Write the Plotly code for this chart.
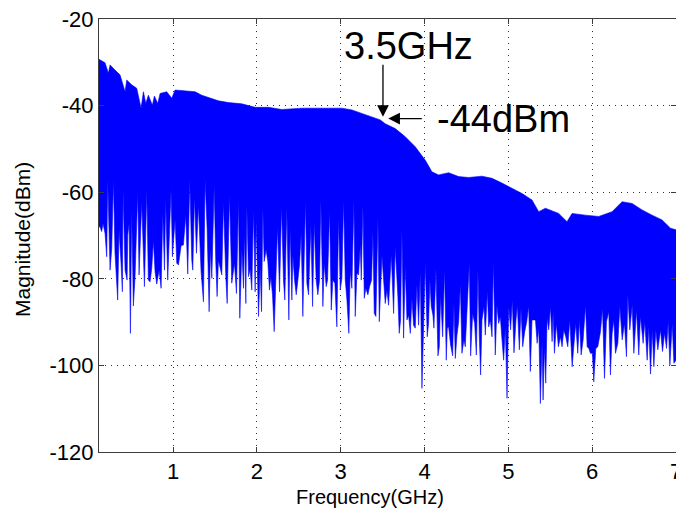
import plotly.graph_objects as go

# Upper envelope of the spectrum (GHz, dBm)
upper_f = [0.116,0.188,0.228,0.248,0.307,0.367,0.427,0.447,0.506,0.566,0.618,0.646,0.674,0.705,0.753,0.777,0.817,0.845,0.924,0.984,1.024,1.143,1.263,1.342,1.442,1.541,1.661,1.820,1.979,2.138,2.297,2.536,2.775,3.014,3.133,3.253,3.372,3.472,3.531,3.650,3.770,3.889,4.009,4.088,4.168,4.287,4.407,4.526,4.685,4.805,4.924,5.043,5.163,5.282,5.362,5.442,5.600,5.700,5.760,5.919,6.078,6.237,6.357,6.476,6.596,6.715,6.834,6.934,7.0]
upper_db = [-29.3,-30.1,-32.5,-30.6,-31.8,-32.9,-36.8,-34.1,-35.2,-36.0,-40.6,-36.8,-39.5,-37.6,-39.9,-37.8,-39.5,-37.2,-36.8,-38.3,-36.4,-36.6,-36.8,-37.6,-38.3,-38.9,-39.3,-39.6,-40.4,-40.4,-40.9,-40.6,-40.6,-40.6,-41.0,-41.8,-42.6,-43.3,-44.2,-45.3,-47.2,-49.5,-52.6,-55.3,-56.0,-55.5,-56.4,-56.6,-56.3,-56.8,-57.9,-59.1,-60.3,-61.8,-64.5,-63.7,-64.9,-66.8,-64.9,-65.3,-65.6,-64.5,-62.2,-62.6,-64.1,-65.3,-66.4,-68.3,-68.7]

# Lower (jagged) edge of the spectrum: alternating dips and gaps
lower_f = [0.116,0.128,0.148,0.164,0.188,0.208,0.220,0.236,0.248,0.268,0.288,0.307,0.339,0.355,0.379,0.395,0.403,0.427,0.451,0.459,0.475,0.491,0.506,0.526,0.546,0.578,0.594,0.626,0.658,0.686,0.705,0.725,0.745,0.765,0.785,0.805,0.833,0.857,0.877,0.897,0.912,0.936,0.976,0.992,1.024,1.044,1.064,1.096,1.123,1.151,1.175,1.199,1.223,1.235,1.255,1.279,1.302,1.334,1.362,1.382,1.406,1.430,1.446,1.462,1.490,1.509,1.525,1.541,1.565,1.581,1.601,1.629,1.645,1.673,1.700,1.732,1.756,1.780,1.796,1.820,1.840,1.852,
           1.868,1.880,1.900,1.919,1.939,1.959,1.979,1.991,2.019,2.039,2.055,2.071,2.087,2.110,2.130,2.150,2.166,2.186,2.206,2.222,2.246,2.270,2.294,2.317,2.333,2.357,2.381,2.397,2.417,2.429,2.449,2.469,2.485,2.508,2.528,2.548,2.580,2.596,2.616,2.644,2.664,2.684,2.707,2.727,2.747,2.763,2.787,2.803,2.827,2.843,2.867,2.887,2.906,2.930,2.954,2.974,2.994,3.014,3.034,3.054,3.074,3.097,3.113,3.133,3.157,3.173,3.193,3.213,3.233,3.245,3.265,3.281,3.300,3.324,3.344,3.368,3.384,3.400,3.420,3.444,3.460,3.492,3.511,3.531,3.551,3.571,
           3.603,3.631,3.650,3.682,3.698,3.714,3.730,3.750,3.770,3.790,3.810,3.830,3.849,3.869,3.889,3.909,3.929,3.949,3.969,3.989,4.009,4.032,4.048,4.064,4.080,4.100,4.112,4.136,4.160,4.176,4.192,4.216,4.239,4.259,4.271,4.287,4.311,4.335,4.351,4.367,4.387,4.407,4.427,4.446,4.470,4.486,4.506,4.534,4.550,4.574,4.598,4.618,4.637,4.653,4.669,4.685,4.709,4.725,4.749,4.765,4.785,4.805,4.821,4.844,4.864,4.884,4.904,4.924,4.944,4.964,4.984,5.004,5.027,5.047,5.067,5.091,5.107,5.131,5.151,5.171,5.195,5.219,5.242,5.262,5.282,5.302,
           5.323,5.343,5.363,5.382,5.402,5.414,5.430,5.446,5.462,5.482,5.502,5.522,5.534,5.550,5.573,5.597,5.621,5.641,5.661,5.685,5.709,5.733,5.761,5.780,5.804,5.828,5.848,5.868,5.892,5.920,5.940,5.960,5.979,6.003,6.019,6.043,6.067,6.099,6.123,6.147,6.170,6.198,6.218,6.238,6.258,6.278,6.306,6.330,6.358,6.385,6.409,6.425,6.449,6.477,6.497,6.529,6.556,6.576,6.608,6.628,6.656,6.676,6.696,6.716,6.736,6.759,6.783,6.815,6.839,6.863,6.887,6.907,6.927,6.955,6.975,7.0]
lower_db = [-68.0,-68.0,-69.1,-67.2,-69.5,-74.9,-57.2,-71.0,-78.0,-73.0,-57.2,-74.1,-84.9,-68.7,-76.4,-83.0,-59.5,-78.0,-80.3,-69.9,-67.2,-92.6,-64.1,-86.3,-79.5,-60.1,-79.1,-62.4,-81.8,-59.5,-80.3,-80.7,-77.6,-71.2,-78.4,-81.2,-78.0,-82.2,-64.9,-78.0,-61.8,-80.3,-59.5,-74.9,-66.3,-76.4,-76.8,-72.3,-72.2,-65.3,-78.9,-57.2,-75.7,-78.0,-61.0,-74.1,-63.0,-78.4,-85.3,-57.2,-68.3,-87.6,-73.0,-79.9,-58.6,-76.0,-84.1,-75.7,-77.6,-79.1,-62.4,-79.5,-85.7,-60.6,-81.0,-76.4,-83.4,-61.8,-89.1,-73.2,-82.2,-69.5,
            -85.7,-63.0,-79.5,-77.8,-82.6,-64.1,-83.0,-66.4,-88.7,-77.0,-87.6,-63.7,-76.0,-73.3,-76.0,-82.6,-79.5,-83.7,-92.2,-85.3,-68.0,-83.0,-63.2,-80.3,-84.9,-63.5,-89.5,-68.3,-84.9,-74.7,-80.3,-83.7,-81.0,-76.8,-69.5,-88.7,-61.8,-81.0,-83.7,-67.6,-86.4,-66.8,-80.3,-83.7,-80.3,-61.9,-86.4,-76.4,-81.8,-80.3,-64.1,-87.2,-80.3,-81.0,-91.1,-65.8,-82.6,-79.9,-61.8,-80.3,-84.9,-92.6,-78.0,-82.2,-61.8,-88.7,-78.7,-79.1,-72.2,-80.3,-63.0,-84.5,-82.2,-83.7,-81.8,-80.3,-69.1,-88.0,-88.7,-66.0,-89.9,-74.7,-79.9,-85.7,-82.6,-86.1,
            -74.5,-88.0,-72.6,-84.1,-92.6,-89.5,-68.6,-93.7,-77.0,-89.5,-88.4,-92.6,-84.5,-90.7,-91.4,-81.4,-90.7,-78.4,-105.3,-91.1,-76.4,-93.4,-90.3,-80.3,-86.4,-88.4,-91.4,-77.6,-97.8,-95.7,-84.0,-93.4,-77.6,-98.8,-91.4,-91.1,-95.3,-97.8,-85.7,-98.4,-93.0,-89.9,-81.2,-97.2,-94.1,-95.7,-88.4,-76.4,-97.8,-88.0,-90.3,-97.6,-77.8,-93.0,-102.2,-89.5,-86.4,-93.0,-82.8,-91.1,-89.5,-93.4,-76.0,-97.6,-86.1,-90.3,-88.7,-94.1,-98.8,-91.1,-107.6,-86.4,-91.8,-84.9,-97.1,-89.5,-86.1,-96.4,-86.8,-95.7,-92.2,-89.9,-86.3,-101.4,-89.5,-89.5,
            -89.5,-94.9,-91.4,-108.8,-94.5,-108.0,-95.7,-104.1,-89.1,-91.8,-86.4,-94.5,-87.6,-97.2,-90.3,-95.7,-93.4,-95.7,-91.8,-93.4,-95.7,-89.5,-100.3,-95.7,-90.3,-97.2,-89.5,-97.6,-94.1,-86.1,-95.7,-96.1,-97.2,-97.2,-103.8,-96.1,-95.7,-92.2,-86.8,-103.0,-89.9,-87.6,-102.2,-92.6,-89.5,-97.2,-94.9,-86.4,-94.1,-90.3,-98.0,-83.7,-91.8,-86.1,-97.2,-87.2,-97.6,-88.7,-94.9,-89.9,-98.8,-91.1,-102.0,-91.8,-100.3,-91.8,-96.4,-91.8,-96.8,-92.6,-96.1,-89.9,-99.9,-90.3,-99.5,-98.8]

x_ticks = [1, 2, 3, 4, 5, 6, 7]
y_ticks = [-120, -100, -80, -60, -40, -20]

poly_x = upper_f + lower_f[::-1]
poly_y = upper_db + lower_db[::-1]

fig = go.Figure()
fig.add_trace(go.Scatter(x=poly_x, y=poly_y, mode="lines", fill="toself",
                         fillcolor="#0000FF", line=dict(color="#0000FF", width=0.6),
                         hoverinfo="skip", showlegend=False))

font_main = "Liberation Sans, Arial, Helvetica, sans-serif"
axis_common = dict(showline=True, linecolor="#3c3c3c", linewidth=1, mirror="ticks",
                   ticks="inside", ticklen=5, tickcolor="#3c3c3c",
                   showgrid=True, gridcolor="#303030", griddash="1px,5px", gridwidth=1,
                   zeroline=False, ticklabeloverflow="allow", automargin=False,
                   tickfont=dict(family=font_main, size=22, color="black"))
fig.update_xaxes(range=[0.116, 7.0], tickvals=x_ticks, ticktext=[str(v) for v in x_ticks], **axis_common)
fig.update_yaxes(range=[-120, -20], tickvals=y_ticks, ticktext=[str(v) for v in y_ticks], **axis_common)

annots = [
    dict(x=3.504, y=-42.6, ax=3.504, ay=-30.2, axref="x", ayref="y", xref="x", yref="y",
         text="", showarrow=True, arrowhead=2, arrowsize=1.8, arrowwidth=1.3, arrowcolor="black"),
    dict(x=3.567, y=-43.0, ax=3.985, ay=-43.0, axref="x", ayref="y", xref="x", yref="y",
         text="", showarrow=True, arrowhead=2, arrowsize=1.8, arrowwidth=1.3, arrowcolor="black"),
    dict(x=3.018, y=-26.2, xref="x", yref="y", text="3.5GHz", showarrow=False,
         xanchor="left", yanchor="middle", font=dict(family=font_main, size=38, color="black")),
    dict(x=4.128, y=-43.0, xref="x", yref="y", text="-44dBm", showarrow=False,
         xanchor="left", yanchor="middle", font=dict(family=font_main, size=38, color="black")),
    dict(x=0.4697, y=-0.105, xref="paper", yref="paper", text="Frequency(GHz)", showarrow=False,
         xanchor="center", yanchor="middle", font=dict(family=font_main, size=20, color="black")),
    dict(x=-0.1334, y=0.4896, xref="paper", yref="paper", text="Magnitude(dBm)", showarrow=False,
         textangle=-90, xanchor="center", yanchor="middle", font=dict(family=font_main, size=21, color="black")),
]

fig.update_layout(width=676, height=515, margin=dict(l=99, r=0, t=19, b=63),
                  paper_bgcolor="white", plot_bgcolor="white", annotations=annots,
                  font=dict(family=font_main))

fig.write_html("out.html")
